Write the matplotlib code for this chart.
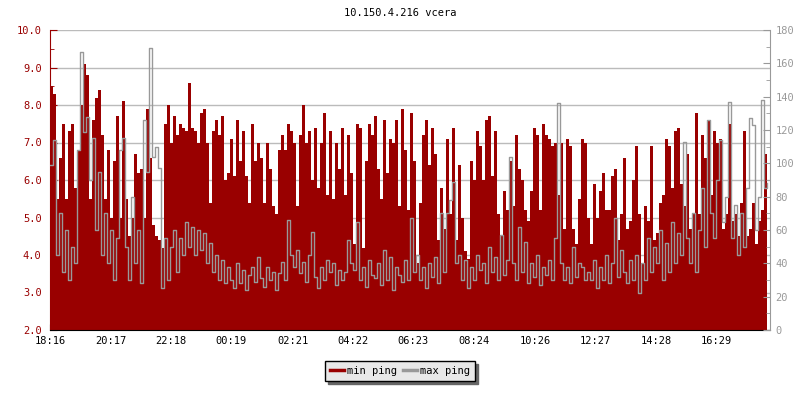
import numpy as np
import matplotlib.pyplot as plt
from matplotlib.lines import Line2D

title = "10.150.4.216 vcera"
start_time = "18:16"
tick_labels = ["18:16", "20:17", "22:18", "00:19", "02:21", "04:22",
               "06:23", "08:24", "10:26", "12:27", "14:28", "16:29"]
step_min = 6  # one sample every 6 minutes

# min ping, left axis (2..10)
min_ping = [
    8.5, 8.3, 5.5, 6.6, 7.5, 5.5, 7.3, 7.5, 5.8, 6.8,
    8.0, 9.1, 8.8, 5.5, 7.6, 8.2, 8.4, 7.2, 5.5, 6.8,
    5.0, 6.5, 7.7, 5.0, 8.1, 5.5, 4.5, 5.0, 6.7, 6.2,
    6.3, 5.0, 7.9, 6.6, 4.8, 4.5, 4.4, 4.2, 7.5, 8.0,
    7.0, 7.7, 7.2, 7.5, 7.4, 7.3, 8.6, 7.4, 7.3, 7.0,
    7.8, 7.9, 7.0, 5.4, 7.3, 7.6, 7.2, 7.7, 6.0, 6.2,
    7.1, 6.1, 7.6, 6.5, 7.3, 6.1, 5.4, 7.5, 6.5, 7.0,
    6.6, 5.4, 7.0, 6.3, 5.3, 5.1, 6.8, 7.2, 6.8, 7.5,
    7.3, 7.0, 5.3, 7.2, 8.0, 7.0, 7.3, 6.0, 7.4, 5.8,
    7.0, 7.8, 5.6, 7.3, 5.5, 7.0, 6.3, 7.4, 5.6, 7.2,
    6.2, 4.3, 7.5, 7.4, 4.2, 6.5, 7.5, 7.2, 7.7, 6.3,
    5.5, 7.6, 6.2, 7.1, 7.0, 7.6, 5.3, 7.9, 6.8, 5.2,
    7.8, 6.5, 3.8, 5.4, 7.2, 7.6, 6.4, 7.4, 6.7, 4.4,
    5.8, 4.7, 7.1, 5.1, 7.4, 4.4, 6.4, 5.0, 4.1, 3.9,
    6.5, 6.0, 7.3, 6.9, 6.0, 7.6, 7.7, 6.1, 7.3, 5.1,
    4.5, 5.7, 5.2, 6.5, 5.3, 7.2, 6.3, 6.0, 5.2, 4.9,
    5.7, 7.4, 7.2, 5.2, 7.5, 7.2, 7.1, 6.9, 7.0, 5.6,
    7.0, 4.7, 7.1, 6.9, 4.7, 4.3, 5.5, 7.1, 7.0, 5.0,
    4.3, 5.9, 5.0, 5.7, 6.2, 5.2, 5.2, 6.1, 6.3, 4.4,
    5.1, 6.6, 4.7, 4.9, 6.0, 6.9, 5.1, 3.8, 5.3, 4.9,
    6.9, 4.4, 4.6, 5.4, 5.6, 7.1, 6.9, 5.8, 7.3, 7.4,
    5.9, 5.3, 6.7, 4.7, 5.1, 7.8, 5.1, 7.2, 6.6, 7.6,
    5.6, 7.3, 7.0, 7.1, 4.7, 5.1, 7.5, 4.9, 5.1, 4.5,
    5.4, 7.3, 4.5, 4.7, 5.4, 4.3, 4.9, 5.2, 6.7, 5.7,
]

# max ping, right axis (0..180)
max_ping = [
    99, 114, 45, 70, 35, 60, 30, 50, 40, 108,
    167, 119, 128, 90, 115, 60, 95, 45, 70, 40,
    60, 30, 55, 108, 115, 50, 30, 80, 40, 60,
    28, 126, 95, 169, 104, 110, 97, 25, 55, 30,
    50, 60, 35, 55, 45, 65, 50, 62, 45, 60,
    48, 58, 40, 52, 35, 45, 30, 42, 28, 38,
    30, 25, 40, 28, 36, 24, 33, 38, 29, 44,
    31, 26, 38, 30, 35, 24, 34, 41, 30, 66,
    45, 38, 48, 34, 41, 29, 45, 59, 32, 25,
    38, 30, 42, 35, 40, 27, 36, 30, 35, 54,
    40, 36, 65, 30, 38, 26, 42, 33, 31, 40,
    27, 48, 30, 44, 24, 38, 33, 29, 42, 30,
    67, 35, 45, 30, 38, 25, 40, 32, 44, 28,
    70, 35, 70, 78, 89, 40, 45, 30, 42, 25,
    38, 30, 45, 36, 40, 28, 50, 35, 44, 30,
    57, 33, 42, 104, 40, 30, 62, 35, 53, 28,
    40, 32, 45, 27, 38, 33, 42, 30, 55, 136,
    40, 30, 38, 28, 50, 32, 40, 38, 30, 35,
    30, 42, 25, 38, 30, 45, 28, 40, 67, 32,
    48, 35, 28, 42, 30, 45, 22, 40, 30, 55,
    35, 50, 40, 60, 30, 52, 35, 65, 40, 58,
    45, 113, 55, 40, 70, 35, 60, 85, 50, 126,
    70, 55, 90, 114, 65, 80, 137, 55, 75, 45,
    70, 50, 85, 127, 123, 60, 80, 138, 85, 88,
]

RED = '#990000'
GREY = '#999999'


def minutes_after(t, t0=start_time):
    h, m = map(int, t.split(':'))
    h0, m0 = map(int, t0.split(':'))
    return ((h * 60 + m) - (h0 * 60 + m0)) % 1440


x = np.arange(len(min_ping)) * step_min
tick_pos = [minutes_after(t) for t in tick_labels]

plt.rcParams['font.family'] = ['DejaVu Sans Mono']
plt.rcParams['font.size'] = 7.5

fig = plt.figure(figsize=(8, 4), dpi=100)
ax = fig.add_axes([0.0625, 0.175, 0.9, 0.75])
ax2 = ax.twinx()

ax.fill_between(x, min_ping, 2, step='post', color=RED, lw=0)
ax2.plot(x, max_ping, drawstyle='steps-post', color=GREY, lw=1.0)

ax.set_xlim(0, 1440)
ax.set_ylim(2, 10)
ax2.set_ylim(0, 180)

ax.set_axisbelow(True)
ax.yaxis.grid(True, color='#bbbbbb', lw=1)

ax.set_yticks(np.arange(2, 10.01, 1))
ax.set_yticks(np.arange(2.5, 10, 1), minor=True)
ax.yaxis.set_major_formatter('{x:.1f}')
ax.tick_params(axis='y', which='both', direction='in', color=RED, labelcolor=RED, pad=6)
ax.tick_params(axis='y', which='major', length=5)
ax.tick_params(axis='y', which='minor', length=3)

ax.set_xticks(tick_pos, tick_labels)
ax.tick_params(axis='x', direction='in', length=4, color='black', pad=4)

ax2.set_yticks(range(0, 181, 20))
ax2.set_yticks(range(10, 180, 20), minor=True)
ax2.tick_params(axis='y', which='both', direction='in', color=GREY, labelcolor=GREY, pad=4)
ax2.tick_params(axis='y', which='major', length=5)
ax2.tick_params(axis='y', which='minor', length=3)

for s in ['top', 'right']:
    ax.spines[s].set_visible(False)
for s in ['top', 'left', 'bottom']:
    ax2.spines[s].set_visible(False)
ax.spines['left'].set_color(RED)
ax.spines['bottom'].set_color('black')
ax2.spines['right'].set_color(GREY)

fig.text(0.5, 1 - 13 / 400, title, ha='center', va='center')

handles = [Line2D([], [], color=RED, lw=2.5), Line2D([], [], color=GREY, lw=2.5)]
fig.legend(handles, ['min ping', 'max ping'], loc='center', bbox_to_anchor=(0.5, 0.0725),
           ncol=2, fancybox=False, shadow={'color': '#666666', 'alpha': 1},
           edgecolor='black', facecolor='#e8e8e8', framealpha=1,
           handlelength=1.3, handletextpad=0.3, columnspacing=0.6, borderpad=0.5)

fig.savefig('out.png', dpi=100)
